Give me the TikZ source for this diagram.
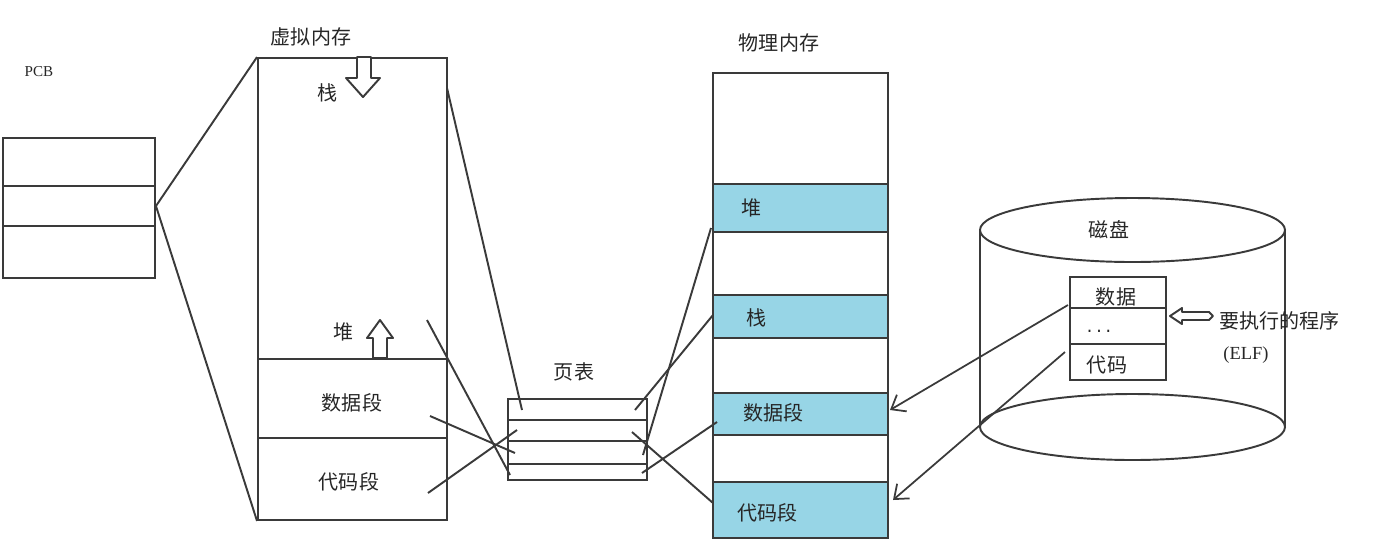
\documentclass[tikz,border=0pt]{standalone}
\usepackage{fontspec}
\setmainfont{Noto Sans CJK SC}
\newfontfamily\latinf{Liberation Serif}
\newfontfamily\monof{Liberation Mono}
\usetikzlibrary{arrows.meta,fit}
\definecolor{seg}{HTML}{97D5E6}
\definecolor{ink}{HTML}{3A3A3A}
\begin{document}
\begin{tikzpicture}[x=0.02cm,y=-0.02cm,
  cell/.style={draw=ink,line width=1.1pt,inner sep=0pt},
  blk/.style={draw=ink,line width=1.1pt,inner sep=0pt,fill=seg},
  lbl/.style={font=\fontsize{11.4}{13}\selectfont,text=black!85,inner sep=0pt},
  link/.style={draw=ink,line width=1.1pt},
  arr/.style={draw=ink,line width=1pt,-{Straight Barb[length=7pt,width=11pt,line width=1pt]}},
  hollow/.style={draw=ink,line width=1.1pt,fill=white,line join=round}]
\useasboundingbox (0,0) rectangle (1374,556);

% PCB
\node[lbl,font=\latinf\fontsize{8.6}{10}\selectfont] (pcbl) at (39,72) {PCB};
\node[cell,fit={(3,138)(155,186)}] (pcb1) {};
\node[cell,fit={(3,186)(155,226)}] (pcb2) {};
\node[cell,fit={(3,226)(155,278)}] (pcb3) {};

% virtual memory
\node[lbl] (vmt) at (311,37) {虚拟内存};
\node[cell,fit={(258,58)(447,359)}] (vmfree) {};
\node[cell,fit={(258,359)(447,438)}] (vmdata) {};
\node[cell,fit={(258,438)(447,520)}] (vmcode) {};
\node[lbl] (vs) at (328,93) {栈};
\node[lbl] (vh) at (344,332) {堆};
\node[lbl] (vd) at (352,403) {数据段};
\node[lbl] (vc) at (349,482) {代码段};
\draw[hollow] (357,57) -- (371,57) -- (371,78) -- (380,78) -- (363,97) -- (346,78) -- (357,78) -- cycle;
\draw[hollow] (373,358) -- (387,358) -- (387,338) -- (393,338) -- (380,320) -- (367,338) -- (373,338) -- cycle;

% page table
\node[lbl] (ptt) at (574,372) {页表};
\node[cell,fit={(508,399)(647,420)}] (pt1) {};
\node[cell,fit={(508,420)(647,441)}] (pt2) {};
\node[cell,fit={(508,441)(647,464)}] (pt3) {};
\node[cell,fit={(508,464)(647,480)}] (pt4) {};

% physical memory
\node[lbl] (pmt) at (779,43) {物理内存};
\node[blk,fit={(713,184)(888,232)}] (pheap) {};
\node[blk,fit={(713,295)(888,338)}] (pstack) {};
\node[blk,fit={(713,393)(888,435)}] (pdata) {};
\node[blk,fit={(713,482)(888,538)}] (pcode) {};
\node[cell,fit={(713,73)(888,538)}] (phys) {};
\node[lbl,anchor=west] (ph) at (741,208) {堆};
\node[lbl,anchor=west] (ps) at (746,318) {栈};
\node[lbl,anchor=west] (pd) at (743,413) {数据段};
\node[lbl,anchor=west] (pc) at (737,513) {代码段};

% disk
\draw[link] (980,230) -- (980,427);
\draw[link] (1285,230) -- (1285,427);
\draw[link] (1132.5,230) ellipse [x radius=152.5,y radius=32];
\draw[link] (1132.5,427) ellipse [x radius=152.5,y radius=33];
\node[lbl] (dk) at (1109,230) {磁盘};
\node[cell,fit={(1070,277)(1166,308)}] (db1) {};
\node[cell,fit={(1070,308)(1166,344)}] (db2) {};
\node[cell,fit={(1070,344)(1166,380)}] (db3) {};
\node[lbl] (dbt1) at (1116,297) {数据};
\node[lbl,font=\monof\fontsize{9}{10}\selectfont] (dbt2) at (1099,331) {...};
\node[lbl] (dbt3) at (1107,365) {代码};
\draw[hollow] (1170,316) -- (1182,308) -- (1182,312) -- (1209,312) -- (1213,316) -- (1209,320) -- (1182,320) -- (1182,324) -- cycle;
\node[lbl,anchor=west] (elf1) at (1219,321) {要执行的程序};
\node[lbl,font=\latinf\fontsize{10.5}{12}\selectfont] (elf2) at (1246,355) {(ELF)};

% connector end points
\coordinate (a1) at (447,88);
\coordinate (a2) at (522,410);
\coordinate (b1) at (427,320);
\coordinate (b2) at (510,475);
\coordinate (c1) at (430,416);
\coordinate (c2) at (515,453);
\coordinate (d1) at (428,493);
\coordinate (d2) at (517,430);
\coordinate (e1) at (635,410);
\coordinate (e2) at (713,315);
\coordinate (f1) at (643,455);
\coordinate (f2) at (711,228);
\coordinate (g1) at (642,473);
\coordinate (g2) at (717,422);
\coordinate (h1) at (632,432);
\coordinate (h2) at (713,503);
\coordinate (k1) at (1068,305);
\coordinate (k2) at (890,410);
\coordinate (m1) at (1065,352);
\coordinate (m2) at (893,500);

% PCB -> virtual memory
\draw[link] (pcb2.east) -- (vmfree.north west);
\draw[link] (pcb2.east) -- (vmcode.south west);
% virtual memory -> page table
\draw[link] (a1) -- (a2);
\draw[link] (b1) -- (b2);
\draw[link] (c1) -- (c2);
\draw[link] (d1) -- (d2);
% page table -> physical memory
\draw[link] (e1) -- (e2);
\draw[link] (f1) -- (f2);
\draw[link] (g1) -- (g2);
\draw[link] (h1) -- (h2);
% disk -> physical memory
\draw[arr] (k1) -- (k2);
\draw[arr] (m1) -- (m2);
\end{tikzpicture}
\end{document}
